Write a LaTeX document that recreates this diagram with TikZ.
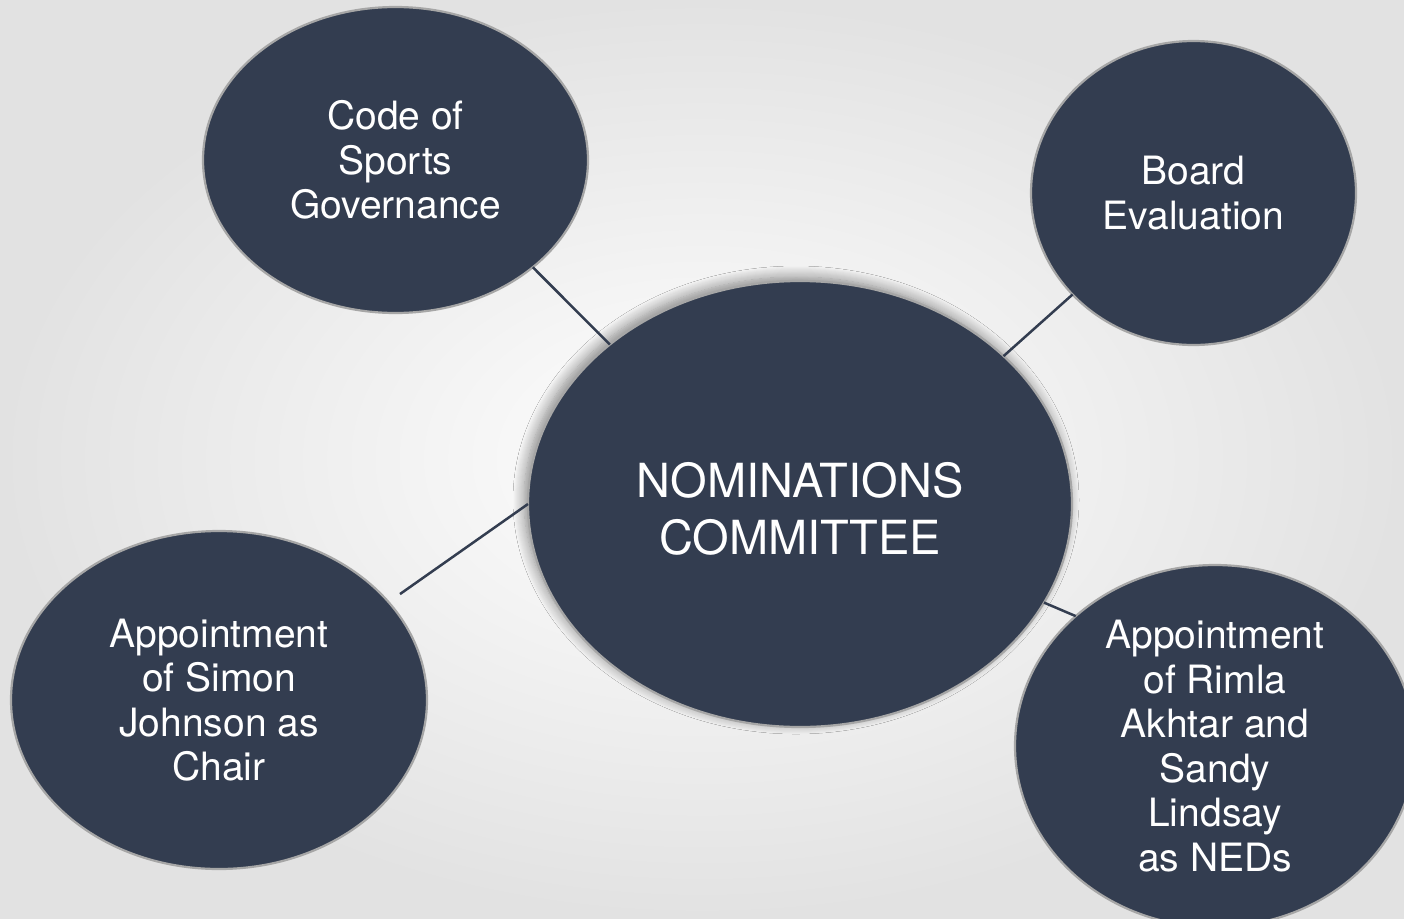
\documentclass[tikz,border=0pt]{standalone}
\usepackage{fontspec}
\setmainfont{TeX Gyre Heros}
\usetikzlibrary{shapes.geometric,shadows.blur}
\definecolor{navy}{HTML}{333D50}
\definecolor{rim}{HTML}{A6A6A6}
\definecolor{bgd}{HTML}{E2E2E2}
\begin{document}
\begin{tikzpicture}[x=1pt,y=-1pt,
  bubble/.style={ellipse, fill=navy, draw=rim, line width=2.2pt, inner sep=0pt, outer sep=0pt},
  lbl/.style={text=white, align=center, inner sep=0pt, font=\fontsize{39}{44.5}\selectfont},
  biglbl/.style={text=white, align=center, inner sep=0pt, font=\fontsize{47}{57}\selectfont},
  link/.style={draw=navy, line width=2.5pt}]
\shade[inner color=white, outer color=bgd] (0,0) rectangle (1404,918);
\useasboundingbox (0,0) rectangle (1404,918);
% bubbles
\node[bubble, minimum width=385pt, minimum height=306pt] (code) at (395.5,160) {};
\node[bubble, minimum width=325pt, minimum height=304pt] (board) at (1193.5,193) {};
\node[bubble, minimum width=416pt, minimum height=338pt] (simon) at (219,700) {};
\node[bubble, minimum width=400pt, minimum height=362pt] (rimla) at (1215,746) {};
\node[bubble, minimum width=544pt, minimum height=446pt,
  blur shadow={shadow xshift=-4pt, shadow yshift=4pt, shadow blur radius=11pt, shadow blur steps=12, shadow opacity=45}] (nom) at (800,504) {};
% connectors
\draw[link] (code.-38) -- (nom.140);
\draw[link] (board.220) -- (nom.36);
\draw[link, shorten <=14pt] (simon.30) -- (nom.180);
\draw[link] (nom.-22) -- (rimla.137);
% labels
\node[lbl] (codeT) at (code.center) {Code of\\Sports\\Governance};
\node[lbl] (boardT) at (board.center) {Board\\Evaluation};
\node[lbl] (simonT) at (simon.center) {Appointment\\of Simon\\Johnson as\\Chair};
\node[lbl] (rimlaT) at (rimla.center) {Appointment\\of Rimla\\Akhtar and\\Sandy\\Lindsay\\as NEDs};
\node[biglbl] (nomT) at ([yshift=-5pt]nom.center) {NOMINATIONS\\COMMITTEE};
\end{tikzpicture}
\end{document}
